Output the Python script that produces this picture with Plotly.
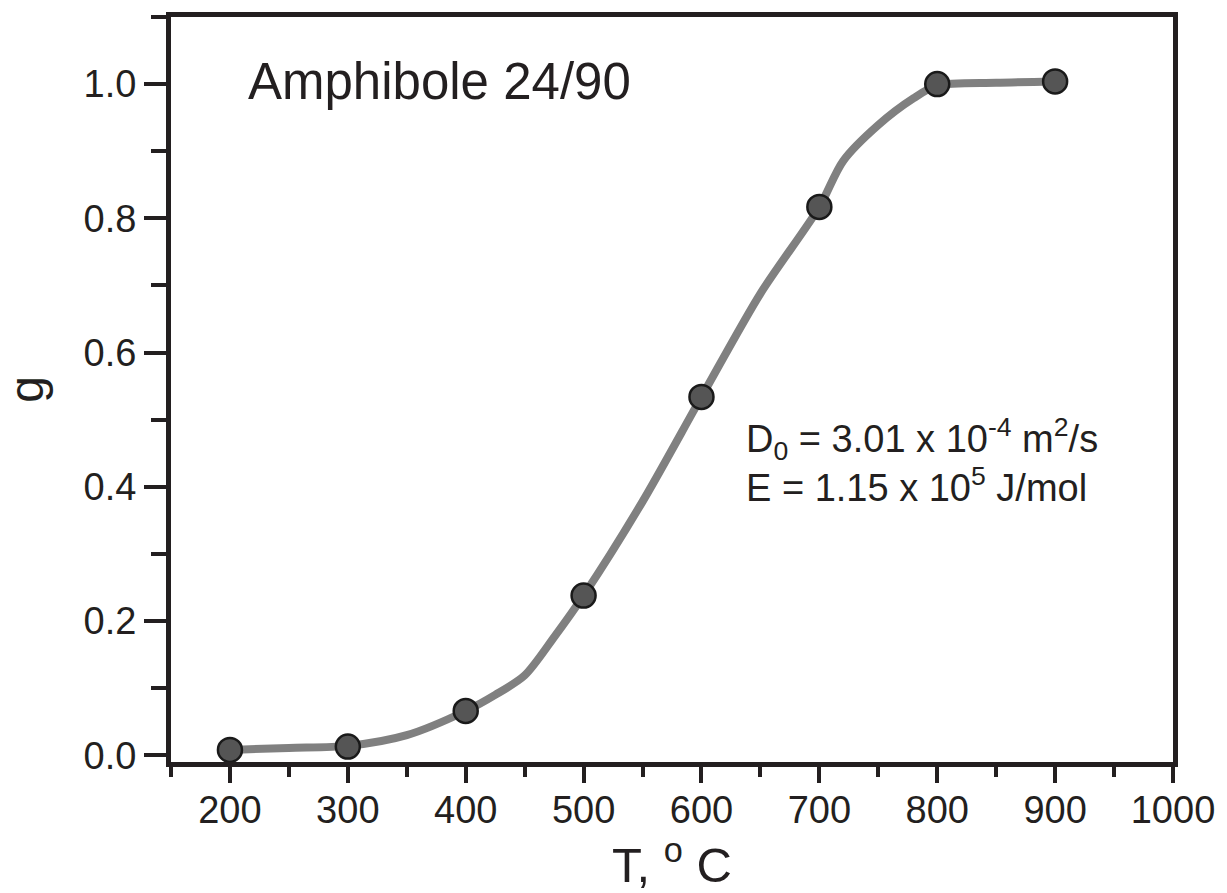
import plotly.graph_objects as go

# Measured data points
temp_c = [200, 300, 400, 500, 600, 700, 800, 900]
g_vals = [0.008, 0.013, 0.066, 0.238, 0.534, 0.817, 1.000, 1.004]

# Fitted curve
fit_t = [200, 250, 300, 350, 400, 425, 450, 475, 500, 550, 600, 650, 700, 720, 750, 780, 800, 850, 900]
fit_g = [0.008, 0.011, 0.014, 0.030, 0.066, 0.090, 0.119, 0.176, 0.238, 0.378, 0.534, 0.688, 0.817, 0.885, 0.939, 0.979, 0.998, 1.002, 1.004]

x_ticks = [200, 300, 400, 500, 600, 700, 800, 900, 1000]
y_ticks = [0.0, 0.2, 0.4, 0.6, 0.8, 1.0]
y_tick_text = ["0.0", "0.2", "0.4", "0.6", "0.8", "1.0"]

FONT = "Liberation Sans, Arial, sans-serif"
INK = "#231f20"

fig = go.Figure()
fig.add_trace(go.Scatter(
    x=fit_t, y=fit_g, mode="lines",
    line=dict(color="#808080", width=8, shape="spline", smoothing=0.8),
    hoverinfo="skip", showlegend=False))
fig.add_trace(go.Scatter(
    x=temp_c, y=g_vals, mode="markers",
    marker=dict(size=24, color="#555555", line=dict(color="#1a1a1a", width=2.5)),
    showlegend=False))

fig.add_annotation(x=214, y=1.004, xref="x", yref="y", text="Amphibole 24/90",
                   showarrow=False, xanchor="left", yanchor="middle",
                   font=dict(family=FONT, size=51, color=INK))
fig.add_annotation(x=636, y=0.515, xref="x", yref="y",
                   text="D<sub>0</sub> = 3.01 x 10<sup>-4</sup> m<sup>2</sup>/s<br>E = 1.15 x 10<sup>5</sup> J/mol",
                   showarrow=False, xanchor="left", yanchor="top", align="left",
                   font=dict(family=FONT, size=38, color=INK))

fig.update_layout(
    width=1227, height=893,
    margin=dict(l=171, r=52, t=17, b=131),
    paper_bgcolor="white", plot_bgcolor="white",
    font=dict(family=FONT, color=INK),
    xaxis=dict(
        range=[150, 1000], tickvals=x_ticks, ticks="outside", ticklen=16, tickwidth=4,
        tickcolor=INK, showline=True, linecolor=INK, linewidth=5, mirror=True,
        showgrid=False, zeroline=False, tickfont=dict(size=38, color=INK),
        ticklabelstandoff=-6,
        minor=dict(dtick=50, tick0=150, ticks="outside", ticklen=10, tickwidth=4, tickcolor=INK, showgrid=False),
        title=dict(text="T, <sup>o</sup> C", font=dict(size=49, color=INK), standoff=8),
    ),
    yaxis=dict(
        range=[-0.01, 1.1], tickvals=y_ticks, ticktext=y_tick_text, ticks="outside", ticklen=22, tickwidth=4,
        tickcolor=INK, showline=True, linecolor=INK, linewidth=5, mirror=True,
        showgrid=False, zeroline=False, tickfont=dict(size=38, color=INK),
        minor=dict(dtick=0.1, tick0=0, ticks="outside", ticklen=15, tickwidth=4, tickcolor=INK, showgrid=False),
        title=dict(text="g", font=dict(size=48, color=INK), standoff=28),
    ),
)

fig.write_html("out.html")
